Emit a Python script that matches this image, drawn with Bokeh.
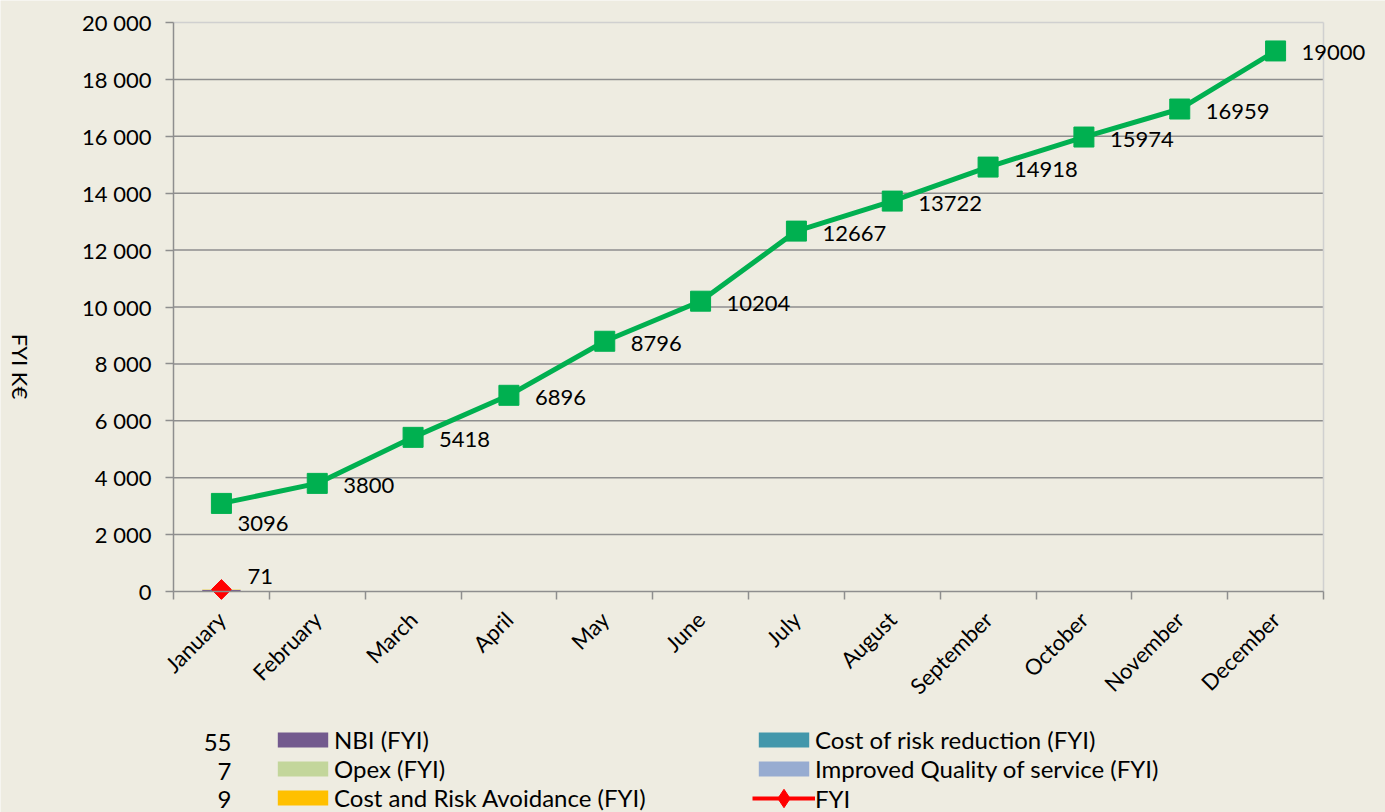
import math
from bokeh.plotting import figure
from bokeh.models import FixedTicker, Legend, LegendItem, Label, ColumnDataSource, Range1d
from bokeh.core.properties import value
from bokeh.embed import file_html
from bokeh.resources import INLINE

# ---------------- data ----------------
months = ["January", "February", "March", "April", "May", "June", "July",
          "August", "September", "October", "November", "December"]
cumulative = [3096, 3800, 5418, 6896, 8796, 10204, 12667, 13722, 14918, 15974, 16959, 19000]

bar_months = ["January"]
nbi = [55]
opex = [7]
cost_risk_avoidance = [9]
cost_risk_reduction = [0]
improved_quality = [0]
fyi = [71]

table_values = [55, 7, 9]

y_ticks = [0, 2000, 4000, 6000, 8000, 10000, 12000, 14000, 16000, 18000, 20000]
y_tick_labels = ["0", "2 000", "4 000", "6 000", "8 000", "10 000", "12 000",
                 "14 000", "16 000", "18 000", "20 000"]
y_label = "FYI K€"

stack_names = ["NBI (FYI)", "Opex (FYI)", "Cost and Risk Avoidance (FYI)",
               "Cost of risk reduction (FYI)", "Improved Quality of service (FYI)"]
stack_colors = ["#735A8E", "#C3D69B", "#FFC000", "#4397AB", "#97ACD1"]
fyi_name = "FYI"

# ---------------- styles / layout ----------------
FONT = "Lato"
FS = "22px"
LFS = "24px"
BG = "#EEECE1"
GREEN = "#00B050"
RED = "#FF0000"
GRID = "#8E8E8E"
LIGHT = "#D0D0D0"

W, H = 1385, 812
PL, PT, PW, PH = 173, 22, 1150, 569      # plotting area in pixels
NX = len(months)
YMAX = y_ticks[-1]
upx = NX / PW
vpx = YMAX / PH
x_range = Range1d(-PL * upx, NX + (W - PL - PW) * upx)
y_range = Range1d(-(H - PT - PH) * vpx, YMAX + PT * vpx)

pos = {m: i + 0.5 for i, m in enumerate(months)}
line_x = [pos[m] for m in months]
bar_x = [pos[m] for m in bar_months]

p = figure(width=W, height=H, x_range=x_range, y_range=y_range,
           output_backend="svg", toolbar_location=None, min_border=0,
           background_fill_color=BG, border_fill_color=BG, outline_line_color=None)

# grid lines and plot border (restricted to the plotting area)
grid_y = y_ticks[1:-1]
p.segment(x0=[0] * len(grid_y), x1=[NX] * len(grid_y), y0=grid_y, y1=grid_y,
          line_color=GRID, line_width=1.5)
p.segment(x0=[0, NX], x1=[NX, NX], y0=[YMAX, 0], y1=[YMAX, YMAX],
          line_color=LIGHT, line_width=1.5)

# stacked bars
bar_src = ColumnDataSource(dict(x=bar_x, a=nbi, b=opex, c=cost_risk_avoidance,
                                d=cost_risk_reduction, e=improved_quality))
bar_renderers = p.vbar_stack(["a", "b", "c", "d", "e"], x="x", width=0.4,
                             fill_color=stack_colors, line_color=None, source=bar_src)

# green cumulative line
p.line(line_x, cumulative, color=GREEN, line_width=5)
p.scatter(line_x, cumulative, marker="square", size=20, color=GREEN)

# FYI series
fyi_line = p.line(bar_x, fyi, color=RED, line_width=4)
p.scatter(bar_x, fyi, marker="square", angle=math.pi / 4, size=14, color=RED)
fyi_legend_marker = p.scatter(bar_x, fyi, marker="diamond", size=18, color=RED)

# data labels
txt = dict(text_font=value(FONT), text_font_size=FS, text_color="black",
           text_align="left", text_baseline="middle")
p.text(line_x[1:], cumulative[1:], text=[str(v) for v in cumulative[1:]],
       x_offset=26, y_offset=2, **txt)
p.text(line_x[:1], cumulative[:1], text=[str(v) for v in cumulative[:1]],
       x_offset=16, y_offset=20, **txt)
p.text(bar_x, fyi, text=[str(v) for v in fyi], x_offset=26, y_offset=-13, **txt)

# axes (fixed at the data origin)
p.xaxis.fixed_location = 0
p.xaxis.bounds = (0, NX)
p.xaxis.ticker = FixedTicker(ticks=line_x, minor_ticks=list(range(NX + 1)))
p.xaxis.major_label_overrides = {x: m for x, m in zip(line_x, months)}
p.xaxis.major_label_orientation = math.pi / 4
p.xaxis.major_tick_line_color = None
p.xaxis.minor_tick_in = 0
p.xaxis.minor_tick_out = 8
p.xaxis.minor_tick_line_color = GRID
p.xaxis.minor_tick_line_width = 1.5
p.xaxis.axis_line_color = GRID
p.xaxis.axis_line_width = 1.5
p.xaxis.major_label_standoff = 16

p.yaxis.fixed_location = 0
p.yaxis.bounds = (0, YMAX)
p.yaxis.ticker = FixedTicker(ticks=y_ticks)
p.yaxis.major_label_overrides = {t: s for t, s in zip(y_ticks, y_tick_labels)}
p.yaxis.major_tick_in = 0
p.yaxis.major_tick_out = 8
p.yaxis.minor_tick_line_color = None
p.yaxis.major_tick_line_color = GRID
p.yaxis.major_tick_line_width = 1.5
p.yaxis.axis_line_color = GRID
p.yaxis.axis_line_width = 1.5
p.yaxis.major_label_standoff = 14

for ax in (p.xaxis, p.yaxis):
    ax.major_label_text_font = FONT
    ax.major_label_text_font_size = FS
    ax.major_label_text_color = "black"

p.grid.visible = False

# y axis title (reads top to bottom)
p.add_layout(Label(x=20, y=H - 366, x_units="screen", y_units="screen", text=y_label,
                   angle=-math.pi / 2, text_align="center", text_baseline="middle",
                   text_font=FONT, text_font_size=FS, text_color="black"))

# legends
legend_style = dict(orientation="vertical", padding=0, margin=0, spacing=0,
                    glyph_width=63, glyph_height=19, label_standoff=0,
                    label_text_font=FONT, label_text_font_size=LFS,
                    label_text_color="black", label_height=29,
                    background_fill_alpha=0, border_line_color=None)
items1 = [LegendItem(label=stack_names[i], renderers=[bar_renderers[i]]) for i in range(3)]
items2 = [LegendItem(label=stack_names[3], renderers=[bar_renderers[3]]),
          LegendItem(label=stack_names[4], renderers=[bar_renderers[4]])]
items3 = [LegendItem(label=fyi_name, renderers=[fyi_line, fyi_legend_marker])]
p.add_layout(Legend(items=items1, location=(271, 0), **legend_style))
p.add_layout(Legend(items=items2, location=(752, 29), **legend_style))
fyi_style = dict(legend_style, glyph_height=46, label_height=46)
p.add_layout(Legend(items=items3, location=(752, -9), **fyi_style))

# small data table values beside the legend
for i, v in enumerate(table_values):
    p.add_layout(Label(x=231, y=H - 742 - 28.5 * i, x_units="screen", y_units="screen",
                       text=str(v), text_align="right", text_baseline="middle",
                       text_font=FONT, text_font_size=LFS, text_color="black"))

open("out.html", "w").write(file_html(p, INLINE))
